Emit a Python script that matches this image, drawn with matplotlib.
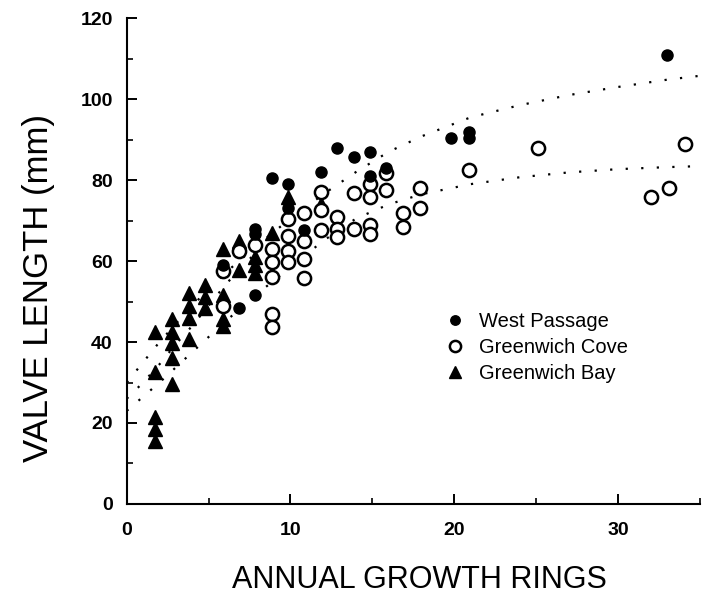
import matplotlib
matplotlib.use("Agg")
import matplotlib.pyplot as plt
from matplotlib.ticker import MultipleLocator

plt.rcParams['font.family'] = ['Liberation Sans', 'DejaVu Sans']

# --- data ---
wp_x = [5.9, 6.85, 7.85, 7.85, 7.85, 8.85, 9.85, 9.85, 10.85, 11.85, 12.85, 13.85,
        14.85, 14.85, 15.85, 19.8, 20.9, 20.9, 33.0]
wp_y = [59.0, 48.5, 68.0, 66.8, 51.5, 80.4, 79.0, 73.0, 67.6, 82.0, 88.0, 85.6,
        87.0, 81.0, 83.0, 90.3, 91.8, 90.3, 111.0]

gc_x = [5.9, 5.9, 6.85, 7.85,
        8.85, 8.85, 8.85, 8.85, 8.85,
        9.85, 9.85, 9.85, 9.85,
        10.85, 10.85, 10.85, 10.85,
        11.85, 11.85, 11.85,
        12.85, 12.85, 12.85,
        13.85, 13.85,
        14.85, 14.85, 14.85, 14.85,
        15.85, 15.85,
        16.85, 16.85,
        17.9, 17.9,
        20.9, 25.1, 32.0, 33.1, 34.1]
gc_y = [57.5, 48.8, 62.6, 63.9,
        63.0, 59.7, 56.0, 47.0, 43.6,
        70.5, 66.3, 62.6, 59.7,
        71.8, 65.0, 60.6, 55.7,
        77.0, 72.5, 67.6,
        71.0, 68.0, 66.0,
        76.7, 68.0,
        79.0, 75.7, 68.8, 66.8,
        81.7, 77.5,
        71.8, 68.3,
        78.0, 73.0,
        82.4, 88.0, 75.7, 78.0, 89.0]

gb_x = [1.7, 1.7, 1.7, 1.7, 1.7,
        2.75, 2.75, 2.75, 2.75, 2.75,
        3.8, 3.8, 3.8, 3.8,
        4.8, 4.8, 4.8,
        5.9, 5.9, 5.9, 5.9,
        6.85, 6.85,
        7.85, 7.85, 7.85,
        8.85, 9.85, 11.85]
gb_y = [42.5, 32.5, 21.5, 18.5, 15.6,
        45.8, 42.5, 39.8, 36.0, 29.7,
        52.0, 49.0, 46.0, 40.8,
        54.0, 51.0, 48.5,
        63.0, 51.5, 45.8, 44.0,
        65.0, 57.7,
        61.0, 59.0, 57.0,
        67.0, 75.7, 74.0]

# dotted growth curves
wp_fit_x = [0, 2, 4, 6, 8, 10, 12, 14, 16, 18, 21, 24, 27, 30, 33, 35.5]
wp_fit_y = [30, 40, 49, 57, 64, 70.5, 76.5, 82, 87, 90.8, 95.5, 98.5, 101, 103, 104.8, 106]
gc_fit_x = [0, 2, 4, 6, 8, 10, 12, 14, 16, 18, 21, 24, 27, 30, 33, 35.5]
gc_fit_y = [23, 30, 37.5, 45, 52, 58.5, 65, 70.5, 74, 76.5, 79, 80.7, 81.9, 82.7, 83.2, 83.5]
gb_fit_x = [0, 1, 2, 3, 4, 5, 6, 7, 8]
gb_fit_y = [26, 30, 34.5, 39.5, 44, 49, 54, 58.5, 62.5]

legend_labels = ["West Passage", "Greenwich Cove", "Greenwich Bay"]

fig = plt.figure(figsize=(7.12, 6.05), dpi=100)
ax = fig.add_axes([0.178, 0.167, 0.805, 0.803])

dot = (0, (1, 6))
for fx, fy in [(wp_fit_x, wp_fit_y), (gc_fit_x, gc_fit_y), (gb_fit_x, gb_fit_y)]:
    ax.plot(fx, fy, linestyle=dot, color='black', linewidth=1.6, zorder=1,
            clip_on=True)

ax.plot(gb_x, gb_y, linestyle='none', marker='^', markersize=10,
        color='black', zorder=2, label=legend_labels[2])
ax.plot(gc_x, gc_y, linestyle='none', marker='o', markersize=9.5,
        markerfacecolor='white', markeredgecolor='black', markeredgewidth=1.8,
        zorder=3, label=legend_labels[1])
ax.plot(wp_x, wp_y, linestyle='none', marker='o', markersize=8,
        color='black', zorder=4, label=legend_labels[0])

ax.set_xlim(0, 35)
ax.set_ylim(0, 120)
ax.spines['top'].set_visible(False)
ax.spines['right'].set_visible(False)
for s in ['left', 'bottom']:
    ax.spines[s].set_linewidth(1.5)

ax.xaxis.set_major_locator(MultipleLocator(10))
ax.xaxis.set_minor_locator(MultipleLocator(5))
ax.yaxis.set_major_locator(MultipleLocator(20))
ax.yaxis.set_minor_locator(MultipleLocator(10))
ax.tick_params(which='major', direction='in', length=7, width=1.4,
               labelsize=14, pad=10)
ax.tick_params(axis='x', which='major', pad=13)
ax.tick_params(which='minor', direction='in', length=4, width=1.2)
for lab in ax.get_xticklabels() + ax.get_yticklabels():
    lab.set_fontweight('bold')

ax.set_xlabel("ANNUAL GROWTH RINGS", fontsize=22)
ax.xaxis.set_label_coords(0.51, -0.125)
ax.set_ylabel("VALVE LENGTH (mm)", fontsize=25)
ax.yaxis.set_label_coords(-0.125, 0.445)

handles, labels = ax.get_legend_handles_labels()
order = [2, 1, 0]
leg = ax.legend([handles[i] for i in order], [labels[i] for i in order],
                loc='upper left', bbox_to_anchor=(0.555, 0.395),
                frameon=False, fontsize=14.5, handletextpad=0.7,
                labelspacing=0.35, handlelength=1.0, markerscale=0.85,
                borderaxespad=0, borderpad=0)

fig.savefig("out.png", dpi=100, facecolor='white')
